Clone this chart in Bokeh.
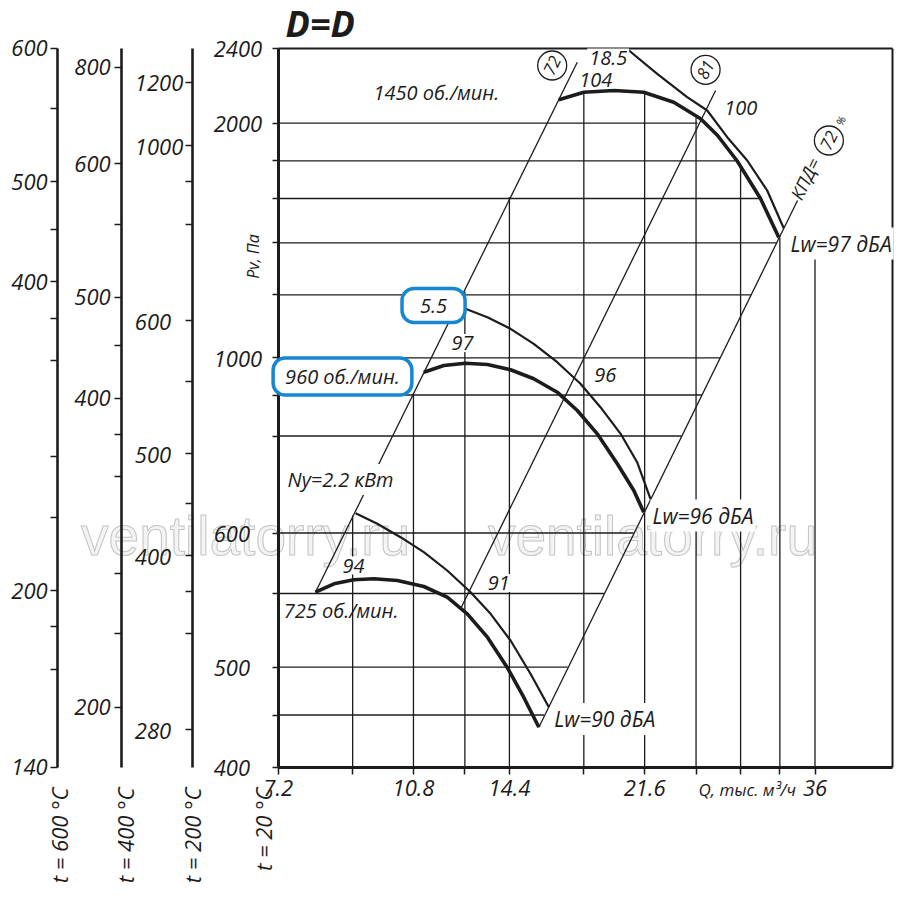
import math
from bokeh.plotting import figure
from bokeh.models import Range1d, FixedTicker, Label, LinearAxis, LogAxis
from bokeh.models.glyphs import Text
from bokeh.core.properties import value
from bokeh.embed import file_html
from bokeh.resources import INLINE

# ---------------- data ----------------
# Flow Q, thousand m3/h (log axis); Pv on the nomogram scale (chart units, 400 Pa at 0 .. 2400 Pa at 719)
q_ticks = [7.2, 9, 10.8, 12.6, 14.4, 18, 21.6, 25.2, 28.8, 32.4, 36]
q_tick_labels = ["7.2", "", "10.8", "", "14.4", "", "21.6", "", "", "", "36"]
q_grid = [9, 10.8, 12.6, 14.4, 18, 21.6, 25.2, 28.8, 32.4, 36]
q_grid_top = [251.7, 373.7, 475.7, 570.2, 675.0, 675.2, 649.7, 601.7, 529.7, 509.7]
q_min, q_max = 7.2, 45.37

pv_ticks = [0, 52.2, 100, 173.7, 234.2, 331.2, 372.2, 409.4, 472.4, 524.4, 568.7, 606.4, 644, 719]
pv_tick_labels = ["400", "", "500", "", "600", "", "", "1000", "", "", "", "", "2000", "2400"]
pv_grid = [52.2, 100, 173.7, 234.2, 331.2, 372.2, 409.4, 472.4, 524.4, 568.7, 606.4, 644]
pv_grid_end = [15.98, 17.15, 19.12, 20.90, 24.12, 25.64, 27.08, 29.71, 32.07, 30.57, 28.45, 25.32]
pv_min, pv_max = 0, 719

# pressure curves (thick) and power curves (thin)
q_p1450 = [16.70, 18.00, 19.69, 21.54, 23.57, 25.55, 26.88, 28.51, 30.57, 32.30]
pv_p1450 = [667.4, 675.0, 676.7, 675.0, 665.0, 648.4, 631.7, 606.2, 568.7, 529.7]
q_n1450 = [20.46, 22.43, 24.54, 26.06, 27.67, 29.38, 31.19, 32.78]
pv_n1450 = [718.7, 693.4, 670.0, 656.7, 630.0, 606.7, 576.7, 539.0]

q_p960 = [11.14, 11.83, 12.62, 13.48, 14.45, 15.49, 16.62, 17.65, 18.74, 19.90, 20.91, 21.54]
pv_p960 = [395.0, 401.7, 404.0, 402.7, 397.4, 388.4, 375.0, 356.7, 333.4, 303.4, 276.7, 255.0]
q_n960 = [12.62, 13.48, 14.45, 15.49, 16.62, 17.82, 18.92, 20.10, 21.12, 21.98]
pv_n960 = [458.4, 450.0, 438.4, 423.4, 405.0, 383.4, 360.0, 333.4, 305.0, 268.4]

q_p725 = [8.05, 8.51, 9.03, 9.59, 10.29, 11.14, 11.95, 12.69, 13.48, 14.30, 15.03, 15.73]
pv_p725 = [175.0, 183.4, 187.4, 188.4, 186.7, 180.7, 170.0, 153.4, 130.0, 100.0, 70.0, 40.0]
q_n725 = [9.08, 9.69, 10.39, 11.14, 11.95, 12.82, 13.61, 14.45, 15.34, 16.21]
pv_n725 = [254.0, 243.4, 230.0, 215.0, 196.7, 175.0, 153.4, 126.7, 93.4, 60.0]

# efficiency rays
q_ray_a = [8.05, 17.65]
pv_ray_a = [175.0, 705.0]
q_ray_b = [12.44, 26.72]
pv_ray_b = [158.4, 676.7]
q_ray_c = [15.73, 34.16]
pv_ray_c = [40.0, 566.7]

# circled efficiency marks
q_circ = [16.37, 25.93, 37.53]
pv_circ = [701.7, 697.4, 626.7]
circ_text = ["72", "81", "72"]

# temperature-corrected pressure scales (same chart units), drawn left of the main chart
t600_ticks = [0, 97.7, 140.7, 176.7, 250, 311, 406.7, 449, 485.7, 537.4, 585.7, 659, 719]
t600_labels = ["140", "", "", "200", "", "", "", "", "400", "", "500", "", "600"]
t400_ticks = [60, 133.7, 194, 291, 332.7, 369, 421.7, 470, 542.7, 603.4, 700]
t400_labels = ["200", "", "", "", "", "400", "", "500", "", "600", "800"]
t200_ticks = [37.4, 133.7, 176, 211.7, 264, 313.4, 386, 446.7, 542.7, 585.7, 621.7, 685]
t200_labels = ["280", "", "", "400", "", "500", "", "600", "", "", "1000", "1200"]
# where each scale stands, in the flow coordinate of the shared frame
scale_q = {"t = 600 °C": 3.717, "t = 400 °C": 4.502, "t = 200 °C": 5.564, "t = 20 °C": 7.2}
scale_title_q = {"t = 600 °C": 3.736, "t = 400 °C": 4.543, "t = 200 °C": 5.552, "t = 20 °C": 6.88}

# ---------------- style ----------------
FONT = "Open Sans"
INK = "#1c1c1c"
BLUE = "#1787d2"
FSP = "\u2007"  # figure space keeps short labels left-aligned
TICK_FS = "22px"

p = figure(width=898, height=900, x_axis_type="log", x_range=Range1d(3.131, 46.24),
           y_range=Range1d(-133.3, 766.7), x_axis_location=None, y_axis_location=None,
           toolbar_location=None, output_backend="svg", title=None,
           min_border_left=0, min_border_right=0, min_border_top=0, min_border_bottom=0,
           outline_line_color=None)
p.grid.visible = False


def pad_label(s, width):
    return s + FSP * (width - len(s)) if s else s


def style_axis(ax, tick_out, standoff, line_width):
    ax.minor_tick_line_color = None
    ax.major_tick_out = tick_out
    ax.major_tick_in = 0
    ax.major_tick_line_width = 1.5
    ax.major_tick_line_color = INK
    ax.axis_line_width = line_width
    ax.axis_line_color = INK
    ax.major_label_standoff = standoff
    ax.major_label_text_font = FONT
    ax.major_label_text_font_style = "italic"
    ax.major_label_text_font_size = TICK_FS
    ax.major_label_text_color = INK


def y_scale_axis(loc, ticks, labels, standoff, pad_to=None, line_width=2.6, tick_out=7):
    ax = LinearAxis(fixed_location=loc, bounds=(pv_min, pv_max), ticker=FixedTicker(ticks=ticks))
    if pad_to:
        labels = [pad_label(s, pad_to) for s in labels]
    ax.major_label_overrides = {t: s for t, s in zip(ticks, labels)}
    style_axis(ax, tick_out, standoff, line_width)
    p.add_layout(ax, "left")
    return ax


# watermarks (drawn first, under everything)
wm_kw = dict(text_font=value("Liberation Sans"), text_font_size="55px", text_align="center",
             text_baseline="middle")
if "text_outline_color" in Text.properties():
    wm_kw.update(text_color="#f4f4f4", text_outline_color="#c4c4c4")
else:
    wm_kw.update(text_color="#e6e6e6")
p.text([6.53, 22.11], [231.7, 231.7], text=["ventilatorry.ru", "ventilatorry.ru"], **wm_kw)

# temperature scales and the main pressure scale
y_scale_axis(scale_q["t = 600 °C"], t600_ticks, t600_labels, 3)
y_scale_axis(scale_q["t = 400 °C"], t400_ticks, t400_labels, 4)
y_scale_axis(scale_q["t = 200 °C"], t200_ticks, t200_labels, 2, pad_to=4)
y_scale_axis(scale_q["t = 20 °C"], pv_ticks, pv_tick_labels, 10, pad_to=4, line_width=3, tick_out=6)

# flow axis
xa = LogAxis(fixed_location=pv_min, bounds=(q_min, q_max), ticker=FixedTicker(ticks=q_ticks))
xa.major_label_overrides = {t: s for t, s in zip(q_ticks, q_tick_labels)}
style_axis(xa, 7, 6, 3)
p.add_layout(xa, "below")

# frame top and right
top = LinearAxis(fixed_location=pv_max, bounds=(q_min, q_max), ticker=FixedTicker(ticks=[]))
top.axis_line_width = 2
top.axis_line_color = INK
top.minor_tick_line_color = None
p.add_layout(top, "above")
right = LinearAxis(fixed_location=q_max, bounds=(pv_min, pv_max), ticker=FixedTicker(ticks=[]))
right.axis_line_width = 2
right.axis_line_color = INK
right.minor_tick_line_color = None
p.add_layout(right, "right")

# grid (clipped to the working region)
p.segment(x0=q_grid, y0=[pv_min] * len(q_grid), x1=q_grid, y1=q_grid_top, line_color=INK, line_width=1.3)
p.segment(x0=[q_min] * len(pv_grid), y0=pv_grid, x1=pv_grid_end, y1=pv_grid,
          line_color=INK, line_width=1.3)

# rays
for qq, pp in ((q_ray_a, pv_ray_a), (q_ray_b, pv_ray_b), (q_ray_c, pv_ray_c)):
    p.line(qq, pp, line_color=INK, line_width=1.3)

# curves
for qq, pp in ((q_n1450, pv_n1450), (q_n960, pv_n960), (q_n725, pv_n725)):
    p.line(qq, pp, line_color=INK, line_width=2.2)
for qq, pp in ((q_p1450, pv_p1450), (q_p960, pv_p960), (q_p725, pv_p725)):
    p.line(qq, pp, line_color=INK, line_width=3.6)

# circled efficiency values
p.scatter(q_circ, pv_circ, marker="circle", size=29, fill_color="white", line_color=INK, line_width=1.3)
p.text(q_circ, pv_circ, text=circ_text, angle=1.112, text_align="center", text_baseline="middle",
       text_font=value(FONT), text_font_style="italic", text_font_size="17px", text_color=INK)
p.text([33.95], [568.7], text=["КПД="], angle=1.112, text_align="left", text_baseline="middle",
       text_font=value(FONT), text_font_style="italic", text_font_size="18px", text_color=INK)
p.text([38.86], [646.7], text=["%"], angle=1.112, text_align="center", text_baseline="middle",
       text_font=value(FONT), text_font_style="italic", text_font_size="11px", text_color=INK)


def add_label(x, y, text, size="20px", align="left", baseline="middle",
              bg=None, angle=0.0, style="italic"):
    lab = Label(x=x, y=y, text=text, text_font=FONT, text_font_style=style,
                text_font_size=size, text_color=INK, text_align=align,
                text_baseline=baseline, angle=angle)
    if bg is not None:
        lab.background_fill_color = bg
        lab.padding = 2
    p.add_layout(lab)
    return lab


add_label(7.36, 744.0, "D=D", size="36px", style="bold italic")
add_label(9.58, 674.7, "1450 об./мин.")
add_label(18.18, 709.7, "18.5", bg="white")
add_label(17.65, 687.7, "104", bg="white")
add_label(27.26, 659.2, "100", bg="white")
add_label(18.46, 392.7, "96", bg="white")
add_label(12.03, 424.2, "97", bg="white")
add_label(8.68, 201.7, "94", bg="white")
add_label(13.41, 184.2, "91", bg="white")
add_label(7.36, 287.7, "Ny=2.2 кВт", bg="white")
add_label(7.32, 156.7, "725 об./мин.")
add_label(33.25, 523.7, "Lw=97 дБА", size="21px", bg="white")
add_label(21.98, 251.7, "Lw=96 дБА", size="21px", bg="white")
add_label(16.37, 48.2, "Lw=90 дБА", size="21px", bg="white")

box960 = add_label(8.73, 390.7, "960 об./мин.", align="center")
box960.update(background_fill_color="white", border_line_color=BLUE, border_line_width=3.5,
              padding=(12, 5), border_radius=12)
box55 = add_label(11.47, 461.7, "5.5", align="center")
box55.update(background_fill_color="white", border_line_color=BLUE, border_line_width=3.5,
             padding=(18, 10), border_radius=12)

add_label(6.68, 510.7, "Pv, Па", size="16px", align="center", angle=math.pi / 2)
add_label(25.39, -22.3, "Q, тыс. м³/ч", size="17px")
for name, qx in scale_title_q.items():
    add_label(qx, -20.3, name, size="22px", align="right", angle=math.pi / 2)

with open("out.html", "w") as fh:
    fh.write(file_html(p, INLINE))
